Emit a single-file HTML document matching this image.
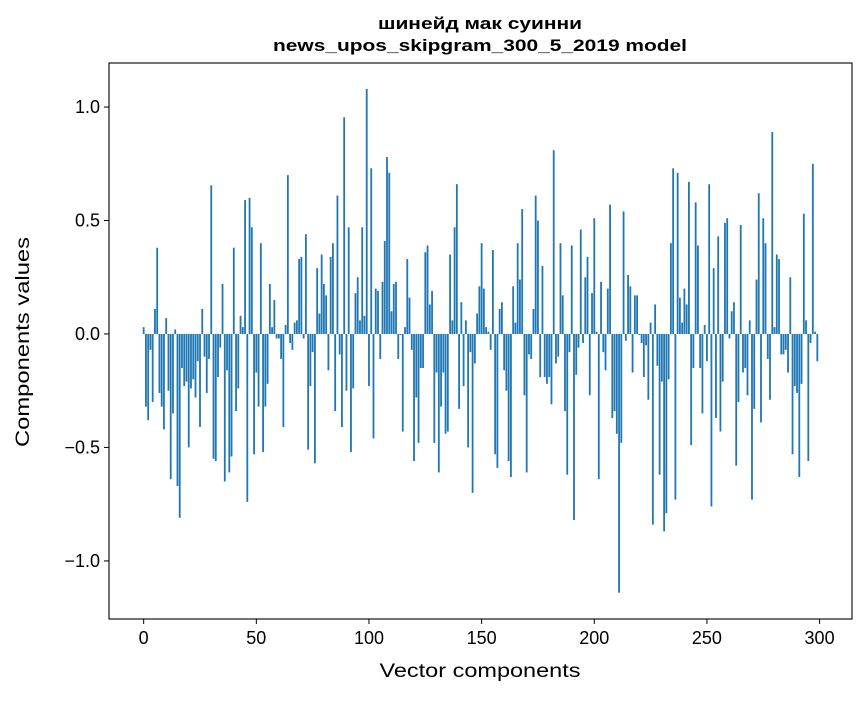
<!DOCTYPE html>
<html><head><meta charset="utf-8"><style>
body{margin:0;background:#fff;}
svg text{font-family:"Liberation Sans","DejaVu Sans",sans-serif;fill:#000;}
</style></head><body>
<svg id="chart" width="867" height="696" xmlns="http://www.w3.org/2000/svg">
<rect width="867" height="696" fill="#fff"/>
<text x="480" y="29" style="font-size:17px" font-weight="bold" text-anchor="middle" textLength="204" lengthAdjust="spacingAndGlyphs">шинейд мак суинни</text>
<text x="480" y="51" style="font-size:17px" font-weight="bold" text-anchor="middle" textLength="414" lengthAdjust="spacingAndGlyphs">news_upos_skipgram_300_5_2019 model</text>
<g id="bars"></g>
<g id="axes"></g>
<text x="480" y="677" style="font-size:19px" text-anchor="middle" textLength="201" lengthAdjust="spacingAndGlyphs">Vector components</text>
<text x="0" y="0" style="font-size:19px" text-anchor="middle" textLength="210" lengthAdjust="spacingAndGlyphs" transform="translate(29,342) rotate(-90)">Components values</text>
</svg>
<script>
const values = [0.03,-0.32,-0.38,-0.07,-0.30,0.11,0.38,-0.26,-0.32,-0.42,
0.07,-0.25,-0.64,-0.35,0.02,-0.67,-0.81,-0.15,-0.23,-0.21,
-0.50,-0.24,-0.20,-0.28,-0.12,-0.41,0.11,-0.10,-0.26,-0.11,
0.655,-0.55,-0.56,-0.19,-0.06,0.22,-0.65,-0.16,-0.61,-0.54,
0.38,-0.34,-0.24,0.08,0.03,0.59,-0.74,0.60,0.47,-0.53,
-0.17,-0.32,0.40,-0.52,-0.32,-0.22,0.22,0.03,0.15,-0.02,
-0.02,-0.11,-0.41,0.04,0.70,-0.04,-0.07,0.05,0.06,0.33,
0.34,-0.02,0.44,-0.51,-0.23,-0.08,-0.57,0.29,0.09,0.35,
0.22,0.17,-0.16,0.34,0.40,-0.34,0.61,-0.09,-0.41,0.955,
-0.25,0.47,-0.52,-0.24,0.18,0.25,0.06,0.47,0.08,1.08,
-0.23,0.73,-0.46,0.20,0.19,-0.11,0.23,0.41,0.78,0.71,
0.10,0.22,0.23,-0.11,-0.005,-0.43,0.03,0.33,0.16,-0.07,
-0.56,-0.28,-0.48,-0.15,-0.15,0.36,0.39,0.13,0.19,-0.48,
-0.17,-0.61,-0.32,-0.17,-0.44,-0.43,0.35,0.06,0.47,0.66,
-0.33,0.14,-0.23,0.06,-0.50,-0.08,-0.70,-0.13,0.09,0.21,
0.40,0.20,0.03,0.01,-0.07,0.37,-0.53,-0.59,0.11,0.14,
-0.16,-0.25,-0.56,-0.63,0.21,0.05,0.40,0.24,0.55,-0.27,
-0.61,-0.09,-0.11,0.11,0.61,0.50,-0.19,0.30,-0.19,-0.22,
-0.19,-0.31,0.81,-0.13,-0.10,0.40,0.17,-0.34,-0.62,-0.08,
0.39,-0.82,-0.18,-0.06,0.46,-0.04,0.25,0.34,-0.27,0.18,
0.51,0.01,-0.64,0.23,-0.08,-0.16,0.20,0.57,-0.37,-0.34,
-0.44,-1.14,-0.48,0.54,-0.03,0.26,0.21,-0.17,0.17,0.17,
-0.005,-0.04,-0.19,-0.05,-0.29,0.05,-0.84,0.13,-0.14,-0.62,
-0.21,-0.87,-0.79,-0.20,0.40,0.73,-0.73,0.71,0.16,0.05,
0.20,0.13,0.67,-0.49,-0.15,0.58,0.39,-0.15,-0.35,0.04,
-0.12,0.66,-0.76,0.29,-0.37,0.43,-0.43,-0.21,0.49,0.51,
-0.02,0.10,0.14,-0.58,-0.30,0.48,-0.17,-0.15,-0.27,0.06,
-0.73,-0.33,0.24,0.62,-0.39,0.51,0.40,-0.11,-0.29,0.89,
0.03,0.35,0.33,-0.09,-0.09,-0.07,-0.17,0.25,-0.53,-0.23,
-0.26,-0.63,-0.22,0.53,0.06,-0.56,-0.04,0.75,0.01,-0.12];
const xTicks = [0,50,100,150,200,250,300];
const yTicks = [-1.0,-0.5,0.0,0.5,1.0];
const yTickLabels = ["\u22121.0","\u22120.5","0.0","0.5","1.0"];

const L=109,R=852,T=63,B=619;
const xMin=-15.39,xMax=314.39,yMin=-1.256,yMax=1.194;
const sx=v=>L+(v-xMin)/(xMax-xMin)*(R-L);
const sy=v=>B-(v-yMin)/(yMax-yMin)*(B-T);
const NS="http://www.w3.org/2000/svg";
const bars=document.getElementById('bars');
values.forEach((v,i)=>{
  const r=document.createElementNS(NS,'rect');
  const x0=sx(i-0.4),x1=sx(i+0.4);
  const y0=sy(Math.max(v,0)),y1=sy(Math.min(v,0));
  r.setAttribute('x',x0);r.setAttribute('width',x1-x0);
  r.setAttribute('y',y0);r.setAttribute('height',Math.max(y1-y0,0.3));
  r.setAttribute('fill','#1f77b4');
  
  
  bars.appendChild(r);
});
const ax=document.getElementById('axes');
const frame=document.createElementNS(NS,'rect');
frame.setAttribute('x',L);frame.setAttribute('y',T);frame.setAttribute('width',R-L);frame.setAttribute('height',B-T);
frame.setAttribute('fill','none');frame.setAttribute('stroke','#000');frame.setAttribute('stroke-width','1.1');


ax.appendChild(frame);
xTicks.forEach(t=>{
  const x=sx(t);
  const l=document.createElementNS(NS,'line');
  l.setAttribute('x1',x);l.setAttribute('x2',x);l.setAttribute('y1',B);l.setAttribute('y2',B+5);l.setAttribute('stroke','#000');
  
  
  ax.appendChild(l);
  const tx=document.createElementNS(NS,'text');
  tx.setAttribute('x',x);tx.setAttribute('y',B+25);tx.setAttribute('style','font-size:18px');tx.setAttribute('text-anchor','middle');
  tx.textContent=t;
  
  
  ax.appendChild(tx);
});
yTicks.forEach((t,k)=>{
  const y=sy(t);
  const l=document.createElementNS(NS,'line');
  l.setAttribute('x1',L-5);l.setAttribute('x2',L);l.setAttribute('y1',y);l.setAttribute('y2',y);l.setAttribute('stroke','#000');
  
  
  ax.appendChild(l);
  const tx=document.createElementNS(NS,'text');
  tx.setAttribute('x',L-9);tx.setAttribute('y',y+6);tx.setAttribute('style','font-size:18px');tx.setAttribute('text-anchor','end');
  tx.textContent=yTickLabels[k];
  
  
  ax.appendChild(tx);
});
</script>
</body></html>
